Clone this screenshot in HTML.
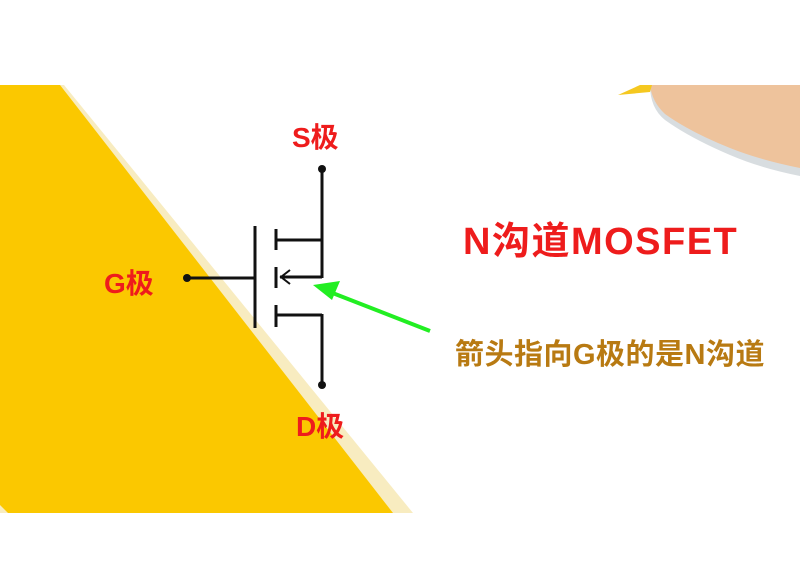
<!DOCTYPE html>
<html><head><meta charset="utf-8"><style>
body{margin:0;background:#fff;}
.t{position:absolute;font-family:"Liberation Sans","Noto Sans CJK SC",sans-serif;font-weight:bold;white-space:nowrap;}
</style></head><body>
<div style="position:relative;width:800px;height:572px;overflow:hidden;background:#fff">
<svg width="800" height="572" style="position:absolute;left:0;top:0">
<polygon points="0,85 64,85 413,513 0,513" fill="#f8ecc0"/>
<polygon points="0,85 60,85 393,513 8,513 0,505" fill="#fbc800"/>
<path d="M650,85 L800,85 L800,176 Q760,168 730,155 Q690,138 665,120 Q650,108 650,85Z" fill="#d8dde0"/>
<path d="M650,85 L800,85 L800,168 Q760,160 730,148 Q690,132 665,114 Q652,102 650,85Z" fill="#eec39c"/>
<polygon points="618,95 640,85 652,85 650,92" fill="#f5c820"/>
<g stroke="#111" stroke-width="3" fill="none">
<line x1="322" y1="169" x2="322" y2="278"/>
<line x1="255" y1="226" x2="255" y2="328"/>
<line x1="187" y1="278" x2="255" y2="278"/>
<line x1="276" y1="229" x2="276" y2="250"/>
<line x1="276" y1="267" x2="276" y2="288"/>
<line x1="276" y1="305" x2="276" y2="327"/>
<line x1="276" y1="240" x2="322" y2="240"/>
<line x1="280" y1="277" x2="322" y2="277"/>
<line x1="276" y1="315" x2="322" y2="315"/>
<line x1="322" y1="314" x2="322" y2="385"/>
</g>
<polyline points="290,270 281,277 290,284" stroke="#111" stroke-width="2" fill="none"/>
<circle cx="322" cy="169" r="4" fill="#111"/>
<circle cx="322" cy="385" r="4" fill="#111"/>
<circle cx="187" cy="278" r="4" fill="#111"/>
<line x1="430" y1="331" x2="330" y2="292" stroke="#22ee22" stroke-width="4"/>
<polygon points="313,285 340,281 332,300" fill="#22ee22"/>
</svg>
<div class="t" style="left:292px;top:116px;font-size:28px;color:#ee1c1c">S极</div>
<div class="t" style="left:104px;top:262px;font-size:28px;color:#ee1c1c">G极</div>
<div class="t" style="left:296px;top:405px;font-size:28px;color:#ee1c1c">D极</div>
<div class="t" style="left:463px;top:210px;font-size:38px;letter-spacing:1.5px;color:#ee1c1c">N沟道MOSFET</div>
<div class="t" style="left:455px;top:331px;font-size:29px;letter-spacing:0.5px;color:#b87a12">箭头指向G极的是N沟道</div>
</div>
</body></html>
